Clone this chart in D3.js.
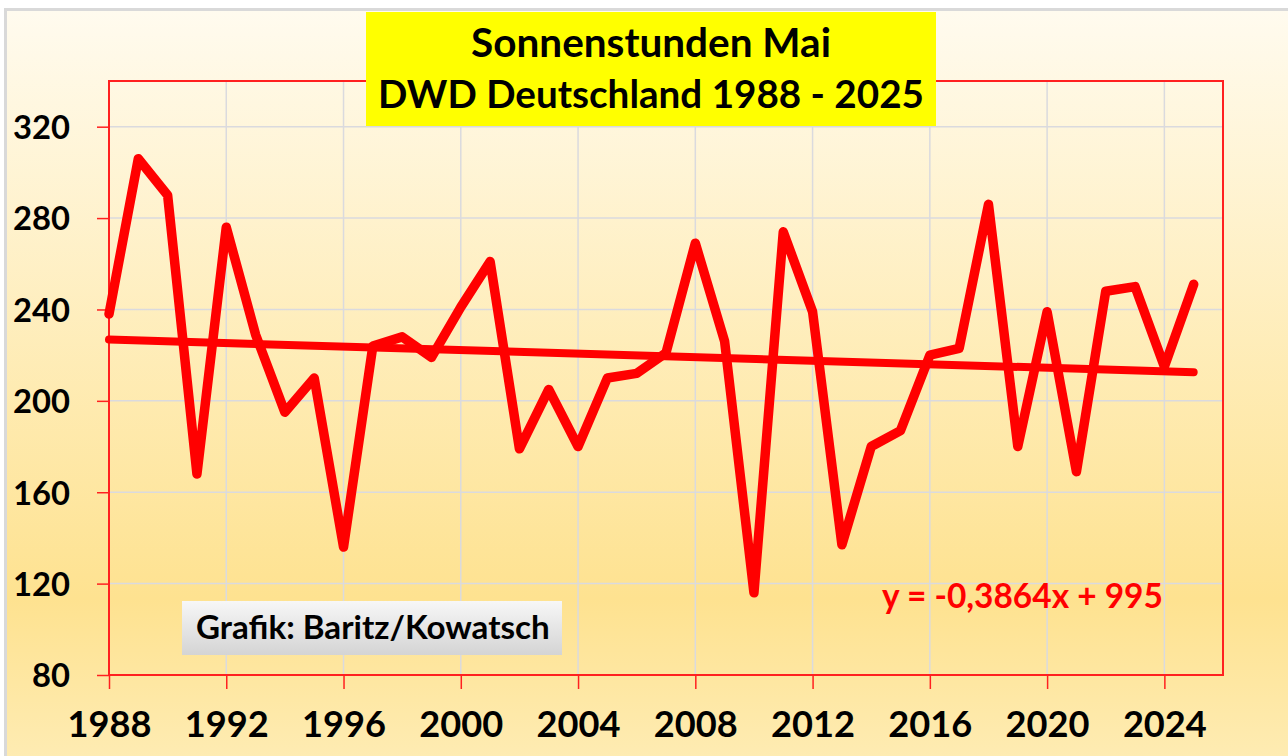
<!DOCTYPE html>
<html>
<head>
<meta charset="utf-8">
<script src="https://cdn.jsdelivr.net/npm/d3@7"></script>
<style>
  html, body { margin: 0; padding: 0; background: #fff; }
  svg { display: block; }
</style>
</head>
<body>
<div id="chart"></div>
<script>
// Sonnenstunden im Mai, DWD Deutschland
const years = d3.range(1988, 2026);
const sunHours = [
  238, 306, 290, 168, 276, 229, 195, 210, 136, 224,
  228, 219, 241, 261, 179, 205, 180, 210, 212, 221,
  269, 226, 116, 274, 239, 137, 180, 187, 220, 223,
  286, 180, 239, 169, 248, 250, 215, 251
];
const yTicks = [80, 120, 160, 200, 240, 280, 320];
const xTicks = [1988, 1992, 1996, 2000, 2004, 2008, 2012, 2016, 2020, 2024];
const trendSlope = -0.3864;
const trendIntercept = 995;
const titleLines = ['Sonnenstunden Mai', 'DWD Deutschland 1988 - 2025'];
const equationLabel = 'y = -0,3864x + 995';
const creditLabel = 'Grafik: Baritz/Kowatsch';

const W = 1288, H = 756;
const margin = {top: 81, right: 65, bottom: 81, left: 109};
const width = W - margin.left - margin.right,
      height = H - margin.top - margin.bottom;
const font = 'Lato, "Open Sans", sans-serif';

const svg = d3.select('#chart').append('svg')
    .attr('width', W)
    .attr('height', H);

const defs = svg.append('defs');
const bg = defs.append('linearGradient')
    .attr('id', 'bg').attr('x1', 0).attr('y1', 0).attr('x2', 0).attr('y2', 1);
bg.append('stop').attr('offset', '0%').attr('stop-color', '#fffbef');
bg.append('stop').attr('offset', '78%').attr('stop-color', '#fee290');
bg.append('stop').attr('offset', '100%').attr('stop-color', '#feecb4');

const grey = defs.append('linearGradient')
    .attr('id', 'grey').attr('x1', 0).attr('y1', 0).attr('x2', 0).attr('y2', 1);
grey.append('stop').attr('offset', '0%').attr('stop-color', '#f7f7f7');
grey.append('stop').attr('offset', '100%').attr('stop-color', '#d4d4d4');

// chart area with grey frame
svg.append('rect')
    .attr('x', 5.5).attr('y', 9.5)
    .attr('width', W).attr('height', H)
    .attr('fill', 'url(#bg)')
    .attr('stroke', '#d9d9d9')
    .attr('stroke-width', 3);

const g = svg.append('g')
    .attr('transform', 'translate(' + margin.left + ',' + margin.top + ')');

const x = d3.scaleLinear().domain([1988, 2026]).range([0, width]);
const y = d3.scaleLinear().domain([80, 340]).range([height, 0]);

// fit a text element to a target width
function fitText(sel, target) {
  const w = sel.node().getComputedTextLength();
  const fs = parseFloat(sel.style('font-size'));
  const size = fs * target / w;
  sel.style('font-size', size + 'px');
  return size;
}

// gridlines
g.append('g')
  .selectAll('line')
  .data(yTicks.slice(1))
  .join('line')
    .attr('x1', 0).attr('x2', width)
    .attr('y1', d => y(d)).attr('y2', d => y(d))
    .attr('stroke', '#dadade').attr('stroke-width', 1.5);

g.append('g')
  .selectAll('line')
  .data(xTicks.slice(1))
  .join('line')
    .attr('x1', d => x(d)).attr('x2', d => x(d))
    .attr('y1', 0).attr('y2', height)
    .attr('stroke', '#dadade').attr('stroke-width', 1.5);

// axes
const xAxis = g.append('g')
    .attr('transform', 'translate(0,' + height + ')')
    .call(d3.axisBottom(x).tickValues(xTicks).tickFormat(d3.format('d'))
      .tickSize(14).tickPadding(22));
xAxis.select('.domain').remove();
xAxis.selectAll('line').attr('stroke', '#ff2020').attr('stroke-width', 1.5);
const xLabels = xAxis.selectAll('text')
    .attr('fill', '#000')
    .style('font-family', font)
    .style('font-weight', 'bold')
    .style('font-size', '35px');
const xSize = fitText(xAxis.select('text'), 84);
xLabels.style('font-size', xSize + 'px');

const yAxis = g.append('g')
    .call(d3.axisLeft(y).tickValues(yTicks).tickSize(12).tickPadding(27));
yAxis.select('.domain').remove();
yAxis.selectAll('line').attr('stroke', '#ff2020').attr('stroke-width', 1.5);
const yLabels = yAxis.selectAll('text')
    .attr('fill', '#000')
    .attr('dy', '0.36em')
    .style('font-family', font)
    .style('font-weight', 'bold')
    .style('font-size', '33px');
const ySize = fitText(yAxis.selectAll('text').filter(d => d === 320), 57);
yLabels.style('font-size', ySize + 'px');

// plot area border
g.append('rect')
    .attr('x', 0).attr('y', 0)
    .attr('width', width).attr('height', height)
    .attr('fill', 'none')
    .attr('stroke', '#ff2020')
    .attr('stroke-width', 2);

// data line
const data = years.map((yr, i) => ({year: yr, value: sunHours[i]}));
const line = d3.line()
    .x(d => x(d.year))
    .y(d => y(d.value));

g.append('path')
    .datum(data)
    .attr('fill', 'none')
    .attr('stroke', '#ff0000')
    .attr('stroke-width', 9.5)
    .attr('stroke-linejoin', 'round')
    .attr('stroke-linecap', 'round')
    .attr('d', line);

// linear trend
const trend = [years[0], years[years.length - 1]]
    .map(yr => ({year: yr, value: trendSlope * yr + trendIntercept}));
g.append('path')
    .datum(trend)
    .attr('fill', 'none')
    .attr('stroke', '#ff0000')
    .attr('stroke-width', 8)
    .attr('stroke-linecap', 'round')
    .attr('d', line);

// equation
const eq = svg.append('text')
    .attr('x', 882).attr('y', 608)
    .attr('fill', '#ff0000')
    .style('font-family', font)
    .style('font-weight', 'bold')
    .style('font-size', '30px')
    .text(equationLabel);
fitText(eq, 281);

// credit box
svg.append('rect')
    .attr('x', 182).attr('y', 601)
    .attr('width', 380).attr('height', 54)
    .attr('fill', 'url(#grey)');
const credit = svg.append('text')
    .attr('x', 196).attr('y', 639)
    .attr('fill', '#000')
    .style('font-family', font)
    .style('font-weight', 'bold')
    .style('font-size', '28px')
    .text(creditLabel);
fitText(credit, 354);

// title box
svg.append('rect')
    .attr('x', 366).attr('y', 12)
    .attr('width', 570).attr('height', 114)
    .attr('fill', '#ffff00');
const titleWidths = [360, 546];
const titleBase = [57, 108];
titleLines.forEach((t, i) => {
  const tt = svg.append('text')
      .attr('x', 651).attr('y', titleBase[i])
      .attr('text-anchor', 'middle')
      .attr('fill', '#000')
      .style('font-family', font)
      .style('font-weight', 'bold')
      .style('font-size', '34px')
      .text(t);
  fitText(tt, titleWidths[i]);
});
</script>
</body>
</html>
